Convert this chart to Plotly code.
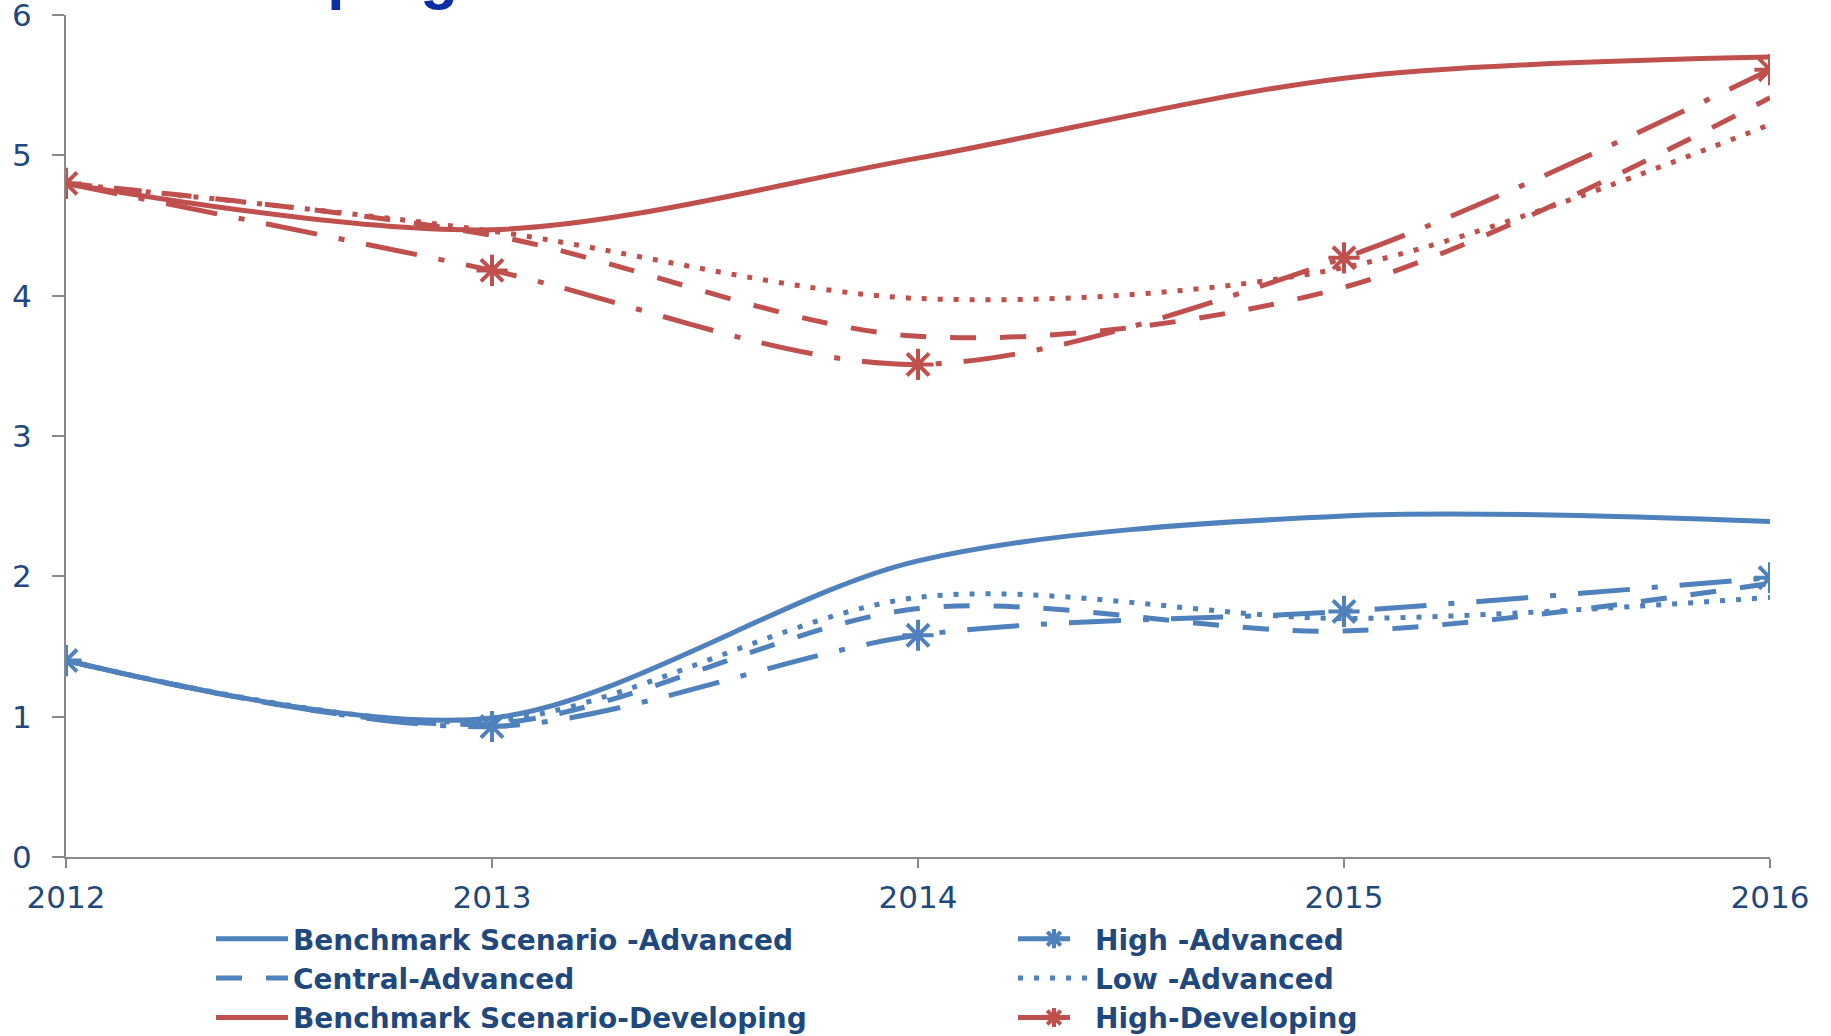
import plotly.graph_objects as go

years = [2012, 2013, 2014, 2015, 2016]

bench_adv = [1.40, 0.99, 2.11, 2.43, 2.39]
high_adv = [1.40, 0.93, 1.58, 1.75, 1.99]
central_adv = [1.40, 0.95, 1.77, 1.61, 1.95]
low_adv = [1.40, 0.97, 1.85, 1.70, 1.85]

bench_dev = [4.80, 4.47, 4.98, 5.55, 5.70]
high_dev = [4.80, 4.18, 3.51, 4.27, 5.61]
central_dev = [4.80, 4.43, 3.71, 4.06, 5.41]
low_dev = [4.80, 4.46, 3.98, 4.20, 5.22]

y_ticks = [0, 1, 2, 3, 4, 5, 6]

BLUE = "#4F81BD"
RED = "#C0504D"
TEXT = "#1F497D"
AXIS = "#898989"
FONT = "DejaVu Sans, Liberation Sans, Arial, sans-serif"
TITLE_FONT = "Liberation Sans, Arial, sans-serif"

LW = 5
DASH = "26px,24px"
DOT = "5px,11px"
LDD = "52px,22px,6px,22px"

fig = go.Figure()

def add(name, y, color, dash, marker=False, show=True):
    kw = dict(mode="lines")
    if marker:
        kw = dict(mode="lines+markers",
                  marker=dict(symbol="asterisk-open", size=26,
                              line=dict(width=4, color=color), color=color))
    fig.add_trace(go.Scatter(
        x=years, y=y, name=name, showlegend=show,
        line=dict(color=color, width=LW, dash=dash, shape="spline", smoothing=0.9),
        **kw))

add("Benchmark Scenario -Advanced", bench_adv, BLUE, "solid")
add("High -Advanced", high_adv, BLUE, LDD, marker=True)
add("Central-Advanced", central_adv, BLUE, DASH)
add("Low -Advanced", low_adv, BLUE, DOT)
add("Benchmark Scenario-Developing", bench_dev, RED, "solid")
add("High-Developing", high_dev, RED, LDD, marker=True)
add("Central-Developing", central_dev, RED, DASH, show=False)
add("Low-Developing", low_dev, RED, DOT, show=False)

fig.update_layout(
    width=1831, height=1036,
    margin=dict(l=66, r=61, t=15, b=179, autoexpand=False),
    paper_bgcolor="white", plot_bgcolor="white",
    font=dict(family=FONT, color=TEXT),
    legend=dict(
        orientation="h", xref="container", yref="container",
        x=211 / 1831, xanchor="left", y=1 - 914 / 1036, yanchor="top",
        entrywidth=715, entrywidthmode="pixels",
        font=dict(family=FONT, size=28, color=TEXT, weight="bold"),
        bgcolor="rgba(0,0,0,0)", itemwidth=72,
    ),
    annotations=[dict(
        text="<b>Developing</b>", xref="paper", yref="paper",
        x=(460 - 66) / 1704, y=(857 - 12) / 842, xanchor="right", yanchor="bottom",
        showarrow=False, font=dict(family=TITLE_FONT, size=62, color="#0B2EA6"),
    )],
)

fig.update_xaxes(
    range=[2012, 2016], tickvals=years, ticktext=[str(y) for y in years],
    showline=True, linecolor=AXIS, linewidth=2, ticks="outside", ticklen=9,
    tickcolor=AXIS, tickwidth=2, showgrid=False, zeroline=False,
    tickfont=dict(family=FONT, size=31, color=TEXT), ticklabelstandoff=3,
    ticklabeloverflow="allow", automargin=False,
)
fig.update_yaxes(
    range=[0, 6], tickvals=y_ticks, ticks="outside", ticklen=12,
    showline=True, linecolor=AXIS, linewidth=2, tickcolor=AXIS, tickwidth=2,
    showgrid=False, zeroline=False,
    tickfont=dict(family=FONT, size=31, color=TEXT), ticklabelstandoff=14,
    ticklabeloverflow="allow", automargin=False,
)

fig.write_html("out.html")
